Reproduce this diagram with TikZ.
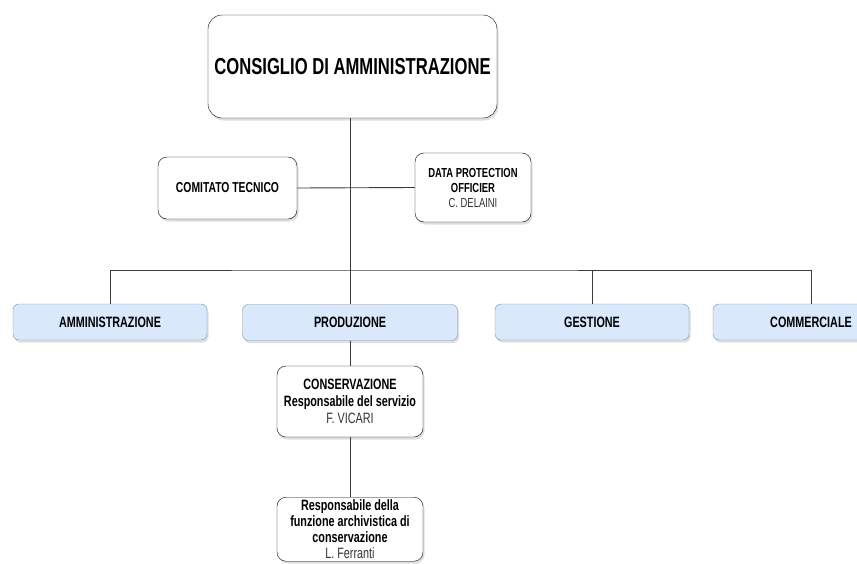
\documentclass[tikz,border=0pt]{standalone}
\usepackage{fontspec}
\setmainfont[FakeStretch=0.72]{Liberation Sans}
\usepackage{xcolor}
\usetikzlibrary{shadows}

\definecolor{deptfill}{HTML}{DAE8FC}
\definecolor{deptline}{HTML}{7D8DA6}
\definecolor{wirecol}{HTML}{3C3C3C}
\definecolor{namecol}{HTML}{333333}

\begin{document}
\begin{tikzpicture}[x=1pt,y=-1pt,
        box/.style={draw=black, fill=white, rounded corners=9pt, align=center, inner sep=0pt,
            drop shadow={shadow xshift=1.5pt, shadow yshift=-2.5pt, opacity=0.25}},
        dept/.style={box, draw=deptline, fill=deptfill, rounded corners=6pt,
            minimum width=194pt, minimum height=36pt, font=\fontsize{15}{18}\selectfont\bfseries},
        wire/.style={draw=wirecol, line width=0.9pt}]
        \useasboundingbox (0,0) rectangle (857,563);
        \clip (0,0) rectangle (857,563);

        % vertice
        \node[box, rounded corners=14pt, minimum width=289pt, minimum height=103pt,
            font=\fontsize{23.1}{26}\selectfont\bfseries] (cda) at (352.5,66.5)
            {\raisebox{-6pt}{CONSIGLIO DI AMMINISTRAZIONE}};

        \node[box, minimum width=139pt, minimum height=62pt,
            font=\fontsize{14.4}{17}\selectfont\bfseries] (ct) at (227.5,188) {COMITATO TECNICO};
        \node[box, minimum width=116pt, minimum height=69pt,
            font=\fontsize{13.1}{15}\selectfont] (dpo) at (473,187.5)
            {\textbf{DATA PROTECTION}\\\textbf{OFFICIER}\\\textcolor{namecol}{C. DELAINI}};

        % aree
        \node[dept] (amm) at (110,322) {AMMINISTRAZIONE};
        \node[dept, minimum width=215pt] (prod) at (350,322.5) {PRODUZIONE};
        \node[dept] (gest) at (592,322) {GESTIONE};
        \node[dept, minimum width=196pt] (comm) at (811,322) {COMMERCIALE};

        \node[box, minimum width=146pt, minimum height=71pt,
            font=\fontsize{15}{17}\selectfont] (cons) at (350,401.5)
            {\textbf{CONSERVAZIONE}\\\textbf{Responsabile del servizio}\\\textcolor{namecol}{F. VICARI}};
        \node[box, minimum width=146pt, minimum height=64pt, anchor=north,
            font=\fontsize{15}{16}\selectfont] (resp) at (350,497)
            {\textbf{Responsabile della}\\\textbf{funzione archivistica di}\\\textbf{conservazione}\\\textcolor{namecol}{L. Ferranti}};

        \coordinate (bar) at (350,270);

        \draw[wire] (cda.south -| bar) -- (bar);
        \draw[wire] (ct.east) -- (dpo.west);
        \draw[wire] (amm.north) |- (bar) -| (comm.north);
        \draw[wire] (gest.north) -- (gest.north |- bar);
        \draw[wire] (bar) -- (prod.north);
        \draw[wire] (prod.south) -- (cons.north);
        \draw[wire] (cons.south) -- (resp.north);
\end{tikzpicture}
\end{document}
